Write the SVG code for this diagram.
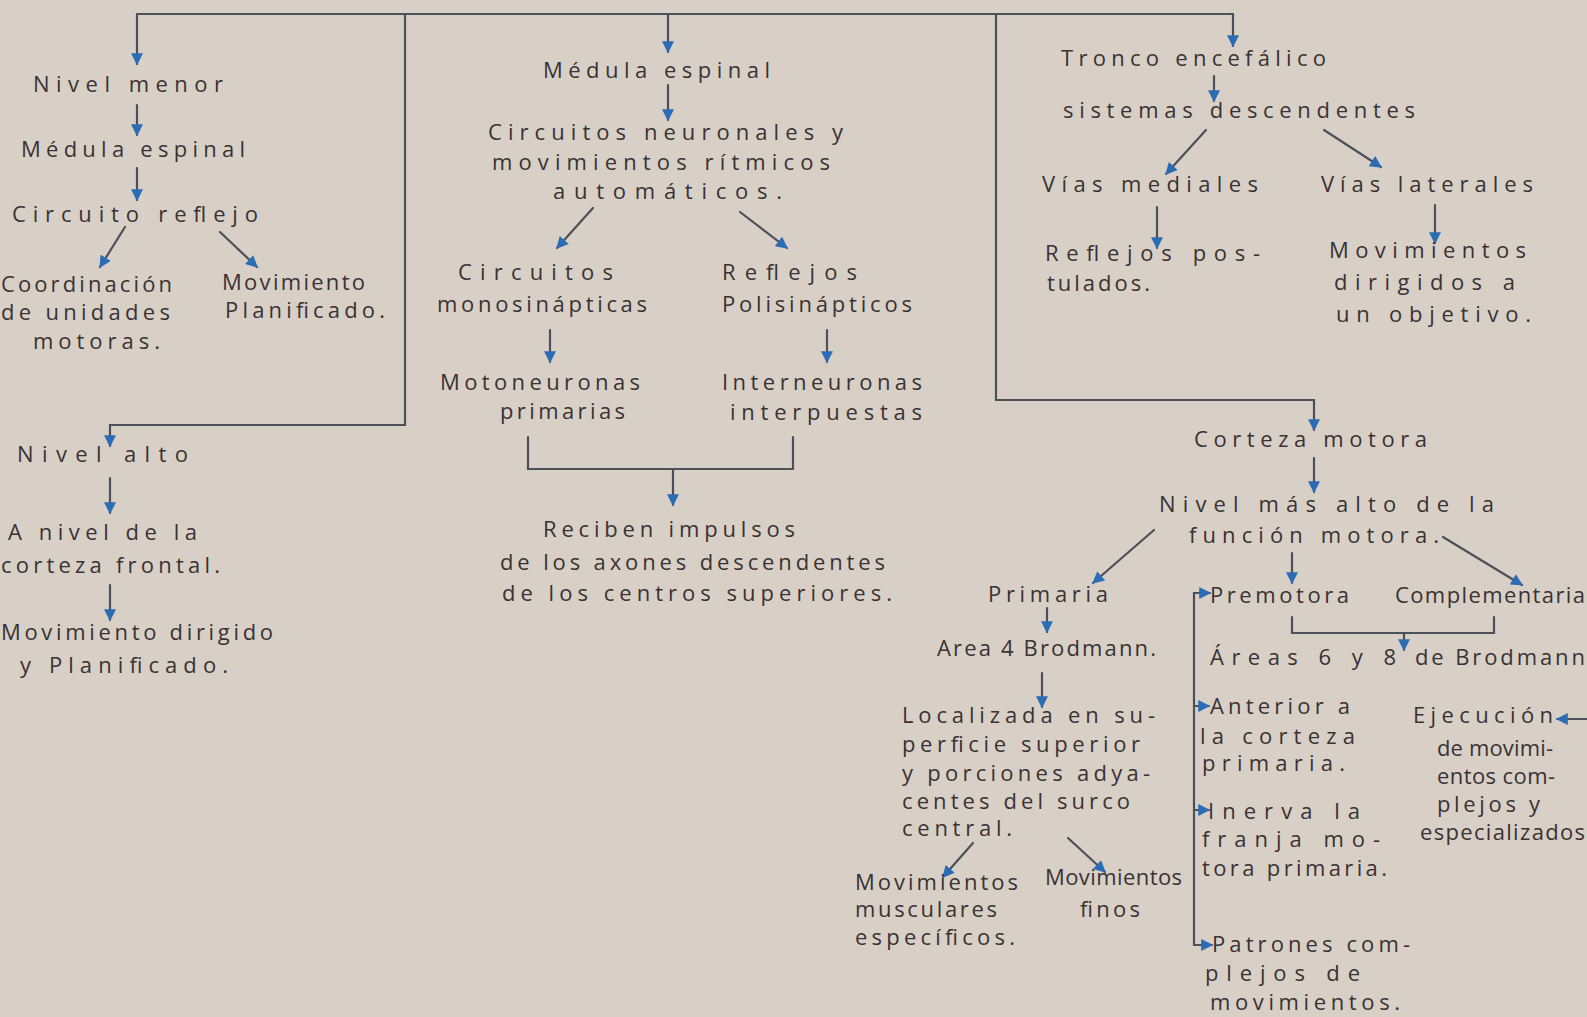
<svg xmlns="http://www.w3.org/2000/svg" width="1587" height="1017" viewBox="0 0 1587 1017">
<defs>
<style>
text{font-family:"Open Sans","Liberation Sans",sans-serif;font-size:22px;font-weight:400;fill:#3a3234}
.ln{fill:none;stroke:#4b5059;stroke-width:2.2;stroke-linecap:round;stroke-linejoin:miter}
.ar{marker-end:url(#ah)}
</style>
<marker id="ah" viewBox="0 0 10 10" refX="9" refY="5" markerWidth="13" markerHeight="12" markerUnits="userSpaceOnUse" orient="auto">
<path d="M0,0 L10,5 L0,10 z" fill="#2c6cb4"/>
</marker>
</defs>
<rect width="1587" height="1017" fill="#d8d0c6"/>

<g id="connectors">
<path class="ln" d="M137,14 H1233"/>
<path class="ln ar" d="M137,14 V64"/>
<path class="ln ar" d="M668,14 V52"/>
<path class="ln ar" d="M1233,14 V46"/>
<path class="ln ar" d="M405,14 V425 H110 V446"/>
<path class="ln ar" d="M996,14 V400 H1314 V430"/>
<path class="ln ar" d="M137,105 V135"/>
<path class="ln ar" d="M137,168 V200"/>
<path class="ln ar" d="M125,227 L100,267"/>
<path class="ln ar" d="M220,232 L257,267"/>
<path class="ln ar" d="M110,478 V513"/>
<path class="ln ar" d="M110,585 V620"/>
<path class="ln ar" d="M668,85 V120"/>
<path class="ln ar" d="M593,208 L557,248"/>
<path class="ln ar" d="M740,212 L787,248"/>
<path class="ln ar" d="M550,330 V362"/>
<path class="ln ar" d="M827,330 V362"/>
<path class="ln" d="M528,437 V469 H793 V437"/>
<path class="ln ar" d="M673,469 V505"/>
<path class="ln ar" d="M1214,76 V101"/>
<path class="ln ar" d="M1206,130 L1166,174"/>
<path class="ln ar" d="M1324,130 L1381,167"/>
<path class="ln ar" d="M1157,207 V248"/>
<path class="ln ar" d="M1435,205 V243"/>
<path class="ln ar" d="M1314,458 V492"/>
<path class="ln ar" d="M1154,530 L1093,583"/>
<path class="ln ar" d="M1292,553 V583"/>
<path class="ln ar" d="M1443,537 L1522,585"/>
<path class="ln ar" d="M1047,608 V632"/>
<path class="ln" d="M1292,617 V633 H1494 V617"/>
<path class="ln ar" d="M1404,633 V650"/>
<path class="ln ar" d="M1042,673 V707"/>
<path class="ln ar" d="M973,843 L943,877"/>
<path class="ln ar" d="M1068,838 L1105,872"/>
<path class="ln ar" d="M1194,945 V593 H1210"/>
<path class="ln ar" d="M1194,945 H1212"/>
<path class="ln ar" d="M1194,706 H1209"/>
<path class="ln ar" d="M1194,810 H1209"/>
<path class="ln ar" d="M1590,719 H1557"/>
</g>

<g id="nivel-menor"><text x="33" y="92" textLength="190" lengthAdjust="spacing">Nivel menor</text></g>
<g id="medula-espinal-1"><text x="21" y="157" textLength="224" lengthAdjust="spacing">Médula espinal</text></g>
<g id="circuito-reflejo"><text x="12" y="222" textLength="246" lengthAdjust="spacing">Circuito reflejo</text></g>
<g id="coordinacion">
<text x="1" y="292" textLength="171" lengthAdjust="spacing">Coordinación</text>
<text x="1" y="320" textLength="169" lengthAdjust="spacing">de unidades</text>
<text x="33" y="349" textLength="127" lengthAdjust="spacing">motoras.</text>
</g>
<g id="movimiento-planificado">
<text x="222" y="290" textLength="143" lengthAdjust="spacing">Movimiento</text>
<text x="225" y="318" textLength="160" lengthAdjust="spacing">Planificado.</text>
</g>
<g id="nivel-alto"><text x="17" y="462" textLength="171" lengthAdjust="spacing">Nivel alto</text></g>
<g id="corteza-frontal">
<text x="8" y="540" textLength="189" lengthAdjust="spacing">A nivel de la</text>
<text x="1" y="573" textLength="219" lengthAdjust="spacing">corteza frontal.</text>
</g>
<g id="movimiento-dirigido">
<text x="1" y="640" textLength="272" lengthAdjust="spacing">Movimiento dirigido</text>
<text x="20" y="673" textLength="208" lengthAdjust="spacing">y Planificado.</text>
</g>

<g id="medula-espinal-2"><text x="543" y="78" textLength="227" lengthAdjust="spacing">Médula espinal</text></g>
<g id="circuitos-neuronales">
<text x="488" y="140" textLength="355" lengthAdjust="spacing">Circuitos neuronales y</text>
<text x="492" y="170" textLength="338" lengthAdjust="spacing">movimientos rítmicos</text>
<text x="553" y="199" textLength="229" lengthAdjust="spacing">automáticos.</text>
</g>
<g id="circuitos-mono">
<text x="458" y="280" textLength="155" lengthAdjust="spacing">Circuitos</text>
<text x="437" y="312" textLength="210" lengthAdjust="spacing">monosinápticas</text>
</g>
<g id="reflejos-poli">
<text x="722" y="280" textLength="135" lengthAdjust="spacing">Reflejos</text>
<text x="722" y="312" textLength="190" lengthAdjust="spacing">Polisinápticos</text>
</g>
<g id="motoneuronas">
<text x="440" y="390" textLength="200" lengthAdjust="spacing">Motoneuronas</text>
<text x="500" y="419" textLength="125" lengthAdjust="spacing">primarias</text>
</g>
<g id="interneuronas">
<text x="722" y="390" textLength="200" lengthAdjust="spacing">Interneuronas</text>
<text x="730" y="420" textLength="192" lengthAdjust="spacing">interpuestas</text>
</g>
<g id="reciben-impulsos">
<text x="543" y="537" textLength="252" lengthAdjust="spacing">Reciben impulsos</text>
<text x="500" y="570" textLength="385" lengthAdjust="spacing">de los axones descendentes</text>
<text x="502" y="601" textLength="390" lengthAdjust="spacing">de los centros superiores.</text>
</g>

<g id="tronco-encefalico"><text x="1061" y="66" textLength="265" lengthAdjust="spacing">Tronco encefálico</text></g>
<g id="sistemas-descendentes"><text x="1063" y="118" textLength="352" lengthAdjust="spacing">sistemas descendentes</text></g>
<g id="vias-mediales"><text x="1042" y="192" textLength="216" lengthAdjust="spacing">Vías mediales</text></g>
<g id="vias-laterales"><text x="1321" y="192" textLength="212" lengthAdjust="spacing">Vías laterales</text></g>
<g id="reflejos-posturales">
<text x="1045" y="261" textLength="215" lengthAdjust="spacing">Reflejos pos-</text>
<text x="1047" y="291" textLength="103" lengthAdjust="spacing">tulados.</text>
</g>
<g id="movimientos-objetivo">
<text x="1329" y="258" textLength="197" lengthAdjust="spacing">Movimientos</text>
<text x="1334" y="290" textLength="181" lengthAdjust="spacing">dirigidos a</text>
<text x="1336" y="322" textLength="195" lengthAdjust="spacing">un objetivo.</text>
</g>

<g id="corteza-motora"><text x="1194" y="447" textLength="233" lengthAdjust="spacing">Corteza motora</text></g>
<g id="nivel-mas-alto">
<text x="1159" y="512" textLength="335" lengthAdjust="spacing">Nivel más alto de la</text>
<text x="1189" y="543" textLength="250" lengthAdjust="spacing">función motora.</text>
</g>
<g id="primaria"><text x="988" y="602" textLength="120" lengthAdjust="spacing">Primaria</text></g>
<g id="premotora"><text x="1210" y="603" textLength="139" lengthAdjust="spacing">Premotora</text></g>
<g id="complementaria"><text x="1395" y="603" textLength="190" lengthAdjust="spacing">Complementaria</text></g>
<g id="area-4"><text x="937" y="656" textLength="219" lengthAdjust="spacing">Area 4 Brodmann.</text></g>
<g id="areas-6-8">
<text x="1210" y="665" textLength="186" lengthAdjust="spacing">Áreas 6 y 8</text>
<text x="1415" y="665" textLength="170" lengthAdjust="spacing">de Brodmann</text>
</g>
<g id="localizada">
<text x="902" y="723" textLength="253" lengthAdjust="spacing">Localizada en su-</text>
<text x="902" y="752" textLength="238" lengthAdjust="spacing">perficie superior</text>
<text x="902" y="781" textLength="248" lengthAdjust="spacing">y porciones adya-</text>
<text x="902" y="809" textLength="228" lengthAdjust="spacing">centes del surco</text>
<text x="902" y="836" textLength="110" lengthAdjust="spacing">central.</text>
</g>
<g id="mov-musculares">
<text x="855" y="890" textLength="163" lengthAdjust="spacing">Movimientos</text>
<text x="855" y="917" textLength="142" lengthAdjust="spacing">musculares</text>
<text x="855" y="945" textLength="160" lengthAdjust="spacing">específicos.</text>
</g>
<g id="mov-finos">
<text x="1045" y="885" textLength="137" lengthAdjust="spacing">Movimientos</text>
<text x="1080" y="917" textLength="60" lengthAdjust="spacing">finos</text>
</g>
<g id="anterior">
<text x="1210" y="714" textLength="140" lengthAdjust="spacing">Anterior a</text>
<text x="1200" y="744" textLength="155" lengthAdjust="spacing">la corteza</text>
<text x="1202" y="771" textLength="143" lengthAdjust="spacing">primaria.</text>
</g>
<g id="inerva">
<text x="1208" y="819" textLength="152" lengthAdjust="spacing">Inerva la</text>
<text x="1202" y="847" textLength="178" lengthAdjust="spacing">franja mo-</text>
<text x="1202" y="876" textLength="185" lengthAdjust="spacing">tora primaria.</text>
</g>
<g id="patrones">
<text x="1212" y="952" textLength="198" lengthAdjust="spacing">Patrones com-</text>
<text x="1205" y="981" textLength="155" lengthAdjust="spacing">plejos de</text>
<text x="1210" y="1010" textLength="190" lengthAdjust="spacing">movimientos.</text>
</g>
<g id="ejecucion">
<text x="1413" y="723" textLength="140" lengthAdjust="spacing">Ejecución</text>
<text x="1437" y="756" textLength="116" lengthAdjust="spacing">de movimi-</text>
<text x="1437" y="784" textLength="118" lengthAdjust="spacing">entos com-</text>
<text x="1437" y="812" textLength="103" lengthAdjust="spacing">plejos y</text>
<text x="1420" y="840" textLength="165" lengthAdjust="spacing">especializados</text>
</g>
</svg>
